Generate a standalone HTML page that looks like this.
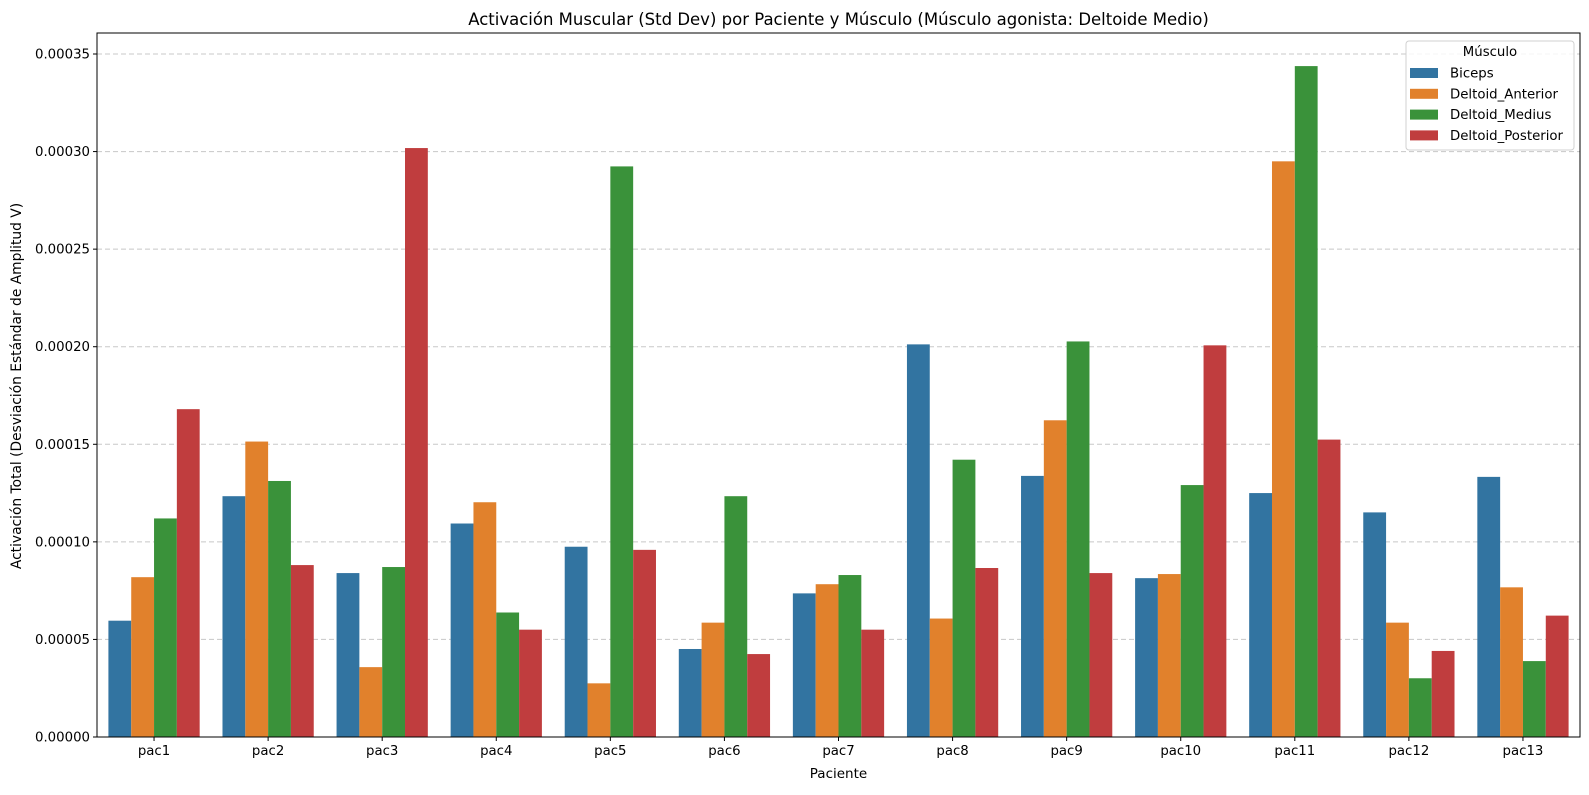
<!DOCTYPE html>
<html><head><meta charset="utf-8"><style>
body{margin:0;background:#fff;font-family:"Liberation Sans","DejaVu Sans",sans-serif;}
svg text{font-family:"DejaVu Sans","Liberation Sans",sans-serif;}
</style></head><body>
<svg id="chart" width="1589" height="790" xmlns="http://www.w3.org/2000/svg"></svg>
<script>
const categories=["pac1","pac2","pac3","pac4","pac5","pac6","pac7","pac8","pac9","pac10","pac11","pac12","pac13"];
const seriesNames=["Biceps","Deltoid_Anterior","Deltoid_Medius","Deltoid_Posterior"];
const biceps=[0.0000596,0.0001234,0.000084,0.0001094,0.0000975,0.0000451,0.0000736,0.0002012,0.0001338,0.0000814,0.000125,0.0001151,0.0001333];
const deltoidAnterior=[0.0000819,0.0001514,0.0000358,0.0001203,0.0000275,0.0000586,0.0000783,0.0000607,0.0001623,0.0000835,0.000295,0.0000586,0.0000767];
const deltoidMedius=[0.000112,0.0001312,0.0000871,0.0000638,0.0002924,0.0001234,0.000083,0.0001421,0.0002027,0.0001291,0.0003438,0.0000301,0.0000389];
const deltoidPosterior=[0.000168,0.0000881,0.0003018,0.000055,0.0000959,0.0000425,0.000055,0.0000866,0.000084,0.0002007,0.0001524,0.0000441,0.0000622];
const yTicks=["0.00000","0.00005","0.00010","0.00015","0.00020","0.00025","0.00030","0.00035"];
const series=[biceps,deltoidAnterior,deltoidMedius,deltoidPosterior];
const colors=["#3274a1","#e1812c","#3a923a","#c03d3e"];
const NS="http://www.w3.org/2000/svg";
const svg=document.getElementById("chart");
const L=97,R=1580,T=33,B=737;
const yMax=0.00035, yTopPx=54;
function y(v){return B-(v/yMax)*(B-yTopPx);}
const gw=(R-L)/categories.length;
function xg(i){return L+gw*i;}
function mk(tag,attrs,txt){const e=document.createElementNS(NS,tag);for(const k in attrs)e.setAttribute(k,attrs[k]);if(txt!==undefined)e.textContent=txt;svg.appendChild(e);return e;}
yTicks.forEach(t=>{const v=parseFloat(t);const yy=y(v);
 if(v>0){const g=mk("line",{x1:L,x2:R,y1:yy,y2:yy,stroke:"#c8c8c8","stroke-dasharray":"5,3","stroke-width":1});
 
 }
 const tk=mk("line",{x1:L-4,x2:L,y1:yy,y2:yy,stroke:"#000"});
 
 
 const lb=mk("text",{x:L-7,y:yy+4.5,"text-anchor":"end","font-size":"13.3"},t);
 
 
});
const bw=gw*0.8/4;
categories.forEach((c,i)=>{
 series.forEach((s,j)=>{
  const x=xg(i)+gw*0.1+bw*j;const top=y(s[i]);
  const r=mk("rect",{x:x,y:top,width:bw,height:B-top,fill:colors[j]});
  
  
 });
 const cx=xg(i)+gw/2;
 const tk=mk("line",{x1:cx,x2:cx,y1:B,y2:B+4,stroke:"#000"});
 
 
 const lb=mk("text",{x:cx,y:B+18,"text-anchor":"middle","font-size":"13.3"},c);
 
 
});
const fr=mk("rect",{x:L,y:T,width:R-L,height:B-T,fill:"none",stroke:"#000","stroke-width":1});


const ti=mk("text",{x:(L+R)/2,y:25,"text-anchor":"middle","font-size":"16.5"},"Activación Muscular (Std Dev) por Paciente y Músculo (Músculo agonista: Deltoide Medio)");


const xl=mk("text",{x:(L+R)/2,y:778,"text-anchor":"middle","font-size":"13.5"},"Paciente");


const yl=mk("text",{x:0,y:0,"text-anchor":"middle","font-size":"13.8","transform":"translate(21,386) rotate(-90)"},"Activación Total (Desviación Estándar de Amplitud V)");


const lg=mk("rect",{x:1406,y:41,width:168,height:109,fill:"#fff","fill-opacity":0.8,stroke:"#d0d0d0",rx:3});


const lt=mk("text",{x:1490,y:56,"text-anchor":"middle","font-size":"13.3"},"Músculo");


seriesNames.forEach((n,j)=>{const yy=73+j*20.8;
 const p=mk("rect",{x:1410,y:yy-5,width:28,height:10,fill:colors[j]});
 
 
 const t=mk("text",{x:1450,y:yy+4.5,"font-size":"13.3"},n);
 
 
});
</script>
</body></html>
